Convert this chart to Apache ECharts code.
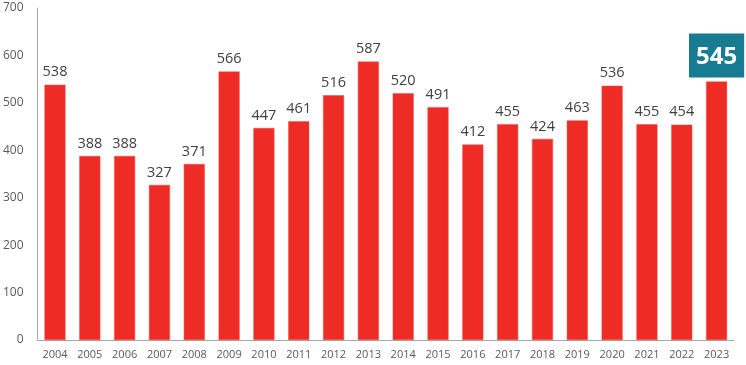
<!DOCTYPE html>
<html><head><meta charset="utf-8">
<script src="https://cdn.jsdelivr.net/npm/echarts@6/dist/echarts.min.js"></script>
<style>html,body{margin:0;padding:0;background:#fff}#c{width:746px;height:365px}</style>
</head><body><div id="c"></div>
<script>
const years = ['2004','2005','2006','2007','2008','2009','2010','2011','2012','2013','2014','2015','2016','2017','2018','2019','2020','2021','2022','2023'];
const values = [538,388,388,327,371,566,447,461,516,587,520,491,412,455,424,463,536,455,454,545];
const yTicks = [0,100,200,300,400,500,600,700];

const chart = echarts.init(document.getElementById('c'));
const last = values.length - 1;
chart.setOption({
  animation: false,
  grid: {left: 36, right: 12, top: 8, bottom: 25},
  xAxis: {
    type: 'category', data: years,
    axisLine: {lineStyle: {color: '#a6a6a6'}},
    axisTick: {show: false},
    axisLabel: {color: '#595959', fontSize: 11, fontFamily: 'Open Sans', margin: 9}
  },
  yAxis: {
    type: 'value', min: yTicks[0], max: yTicks[yTicks.length-1], interval: 100,
    axisLine: {show: true, lineStyle: {color: '#a6a6a6'}},
    axisTick: {show: false},
    splitLine: {show: false},
    axisLabel: {color: '#595959', fontSize: 12, fontFamily: 'Open Sans', margin: 14}
  },
  series: [{
    type: 'bar', barWidth: 21,
    data: values.map((v, i) => i === last ? {
      value: v,
      label: {
        show: true, position: 'top', distance: 4,
        color: '#fff', fontSize: 24, fontWeight: 'bold', fontFamily: 'Open Sans',
        backgroundColor: '#177b91', padding: [9, 7, 6, 7], lineHeight: 29
      }
    } : v),
    itemStyle: {color: '#ee2b24', borderColor: '#f04a44', borderWidth: 0.5},
    label: {show: true, position: 'top', distance: 5, color: '#404040', fontSize: 14.5, fontFamily: 'Open Sans'}
  }]
});
</script></body></html>
